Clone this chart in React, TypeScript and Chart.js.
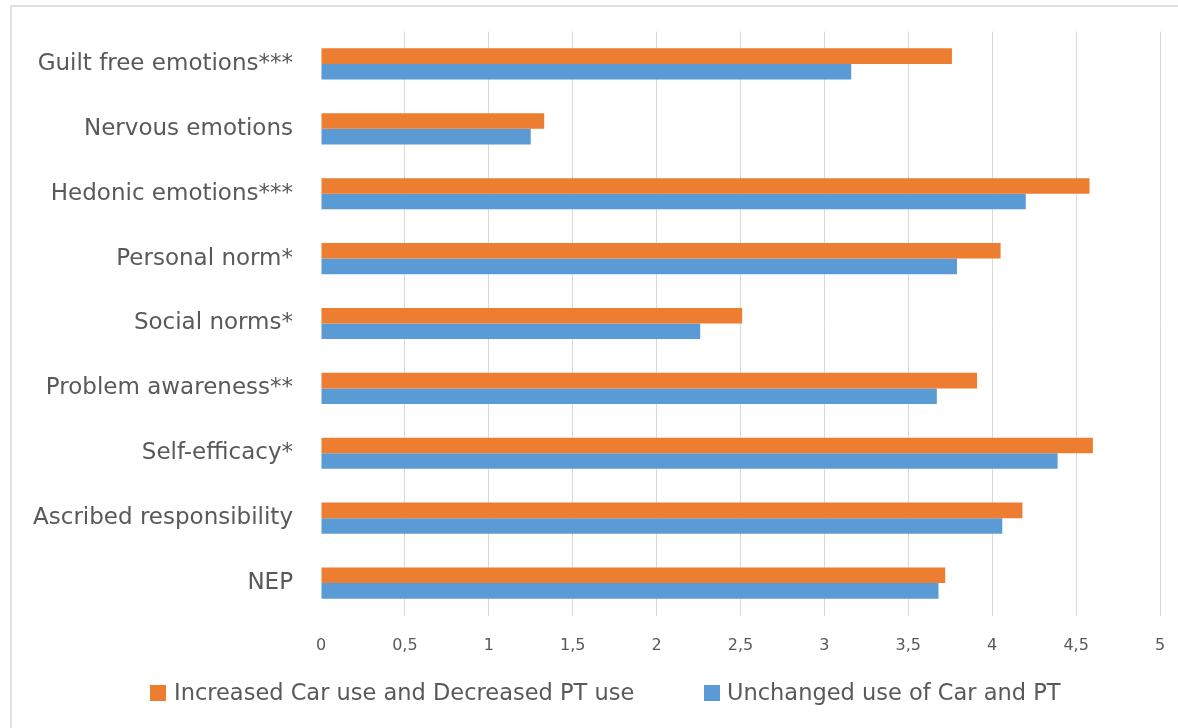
import React, { useEffect, useRef } from "react";
import { Chart, registerables } from "chart.js";

Chart.register(...registerables);

const categories = [
  "Guilt free emotions***",
  "Nervous emotions",
  "Hedonic emotions***",
  "Personal norm*",
  "Social norms*",
  "Problem awareness**",
  "Self-efficacy*",
  "Ascribed responsibility",
  "NEP",
];

const increasedCarLabel = "Increased Car use and Decreased PT use";
const increasedCarValues = [3.76, 1.33, 4.58, 4.05, 2.51, 3.91, 4.6, 4.18, 3.72];

const unchangedLabel = "Unchanged use of Car and PT";
const unchangedValues = [3.16, 1.25, 4.2, 3.79, 2.26, 3.67, 4.39, 4.06, 3.68];

const axisMin = 0;
const axisMax = 5;
const axisStep = 0.5;

const ORANGE = "#ED7D31";
const BLUE = "#5B9BD5";
const FONT = "'DejaVu Sans', sans-serif";
const TEXT = "#595959";
const GRID = "#d9d9d9";

export default function App() {
  const canvasRef = useRef<HTMLCanvasElement | null>(null);

  useEffect(() => {
    const canvas = canvasRef.current;
    if (!canvas) return;
    const chart = new Chart(canvas, {
      type: "bar",
      data: {
        labels: categories,
        datasets: [
          {
            label: increasedCarLabel,
            data: increasedCarValues,
            backgroundColor: ORANGE,
            borderWidth: 0,
            categoryPercentage: 0.48,
            barPercentage: 1,
          },
          {
            label: unchangedLabel,
            data: unchangedValues,
            backgroundColor: BLUE,
            borderWidth: 0,
            categoryPercentage: 0.48,
            barPercentage: 1,
          },
        ],
      },
      options: {
        indexAxis: "y",
        animation: false,
        responsive: false,
        maintainAspectRatio: false,
        layout: { padding: { left: 0, right: 18, top: 25.5, bottom: 72.5 } },
        plugins: {
          tooltip: { enabled: false },
          legend: { display: false },
        },
        scales: {
          x: {
            min: axisMin,
            max: axisMax,
            border: { display: false },
            grid: {
              drawTicks: false,
              color: (ctx: any) => (ctx.index === 0 ? "rgba(0,0,0,0)" : GRID),
              lineWidth: 1,
            },
            ticks: {
              stepSize: axisStep,
              padding: 21,
              color: TEXT,
              font: { family: FONT, size: 16 },
              maxRotation: 0,
              callback: (v: any) => String(v).replace(".", ","),
            },
            afterFit: (scale: any) => {
              scale.height = 40;
              scale.paddingLeft = 0;
              scale.paddingRight = 0;
            },
          },
          y: {
            border: { display: false },
            grid: { display: false, drawTicks: false },
            ticks: {
              padding: 28,
              color: TEXT,
              font: { family: FONT, size: 23 },
            },
            afterFit: (scale: any) => {
              scale.width = 310;
              scale.paddingTop = 0;
              scale.paddingBottom = 0;
            },
          },
        },
      },
    });
    return () => chart.destroy();
  }, []);

  const legendText: React.CSSProperties = {
    position: "absolute",
    top: 681,
    height: 22,
    lineHeight: "22px",
    fontFamily: FONT,
    fontSize: 22.5,
    color: TEXT,
    whiteSpace: "nowrap",
  };

  return (
    <div
      style={{
        position: "fixed",
        left: 0,
        top: 0,
        width: 1178,
        height: 728,
        background: "#ffffff",
        overflow: "hidden",
      }}
    >
      <div
        style={{
          position: "absolute",
          left: 10,
          top: 5,
          width: 1200,
          height: 760,
          borderTop: "2px solid #e0e0e0",
          borderLeft: "2px solid #e0e0e0",
          boxSizing: "border-box",
        }}
      />
      <canvas
        ref={canvasRef}
        width={1167}
        height={722}
        style={{ position: "absolute", left: 11, top: 6, width: 1167, height: 722 }}
      />
      <div style={{ position: "absolute", left: 150, top: 685, width: 16, height: 16, background: ORANGE }} />
      <div style={{ ...legendText, left: 174 }}>{increasedCarLabel}</div>
      <div style={{ position: "absolute", left: 704, top: 685, width: 16, height: 16, background: BLUE }} />
      <div style={{ ...legendText, left: 727 }}>{unchangedLabel}</div>
    </div>
  );
}
